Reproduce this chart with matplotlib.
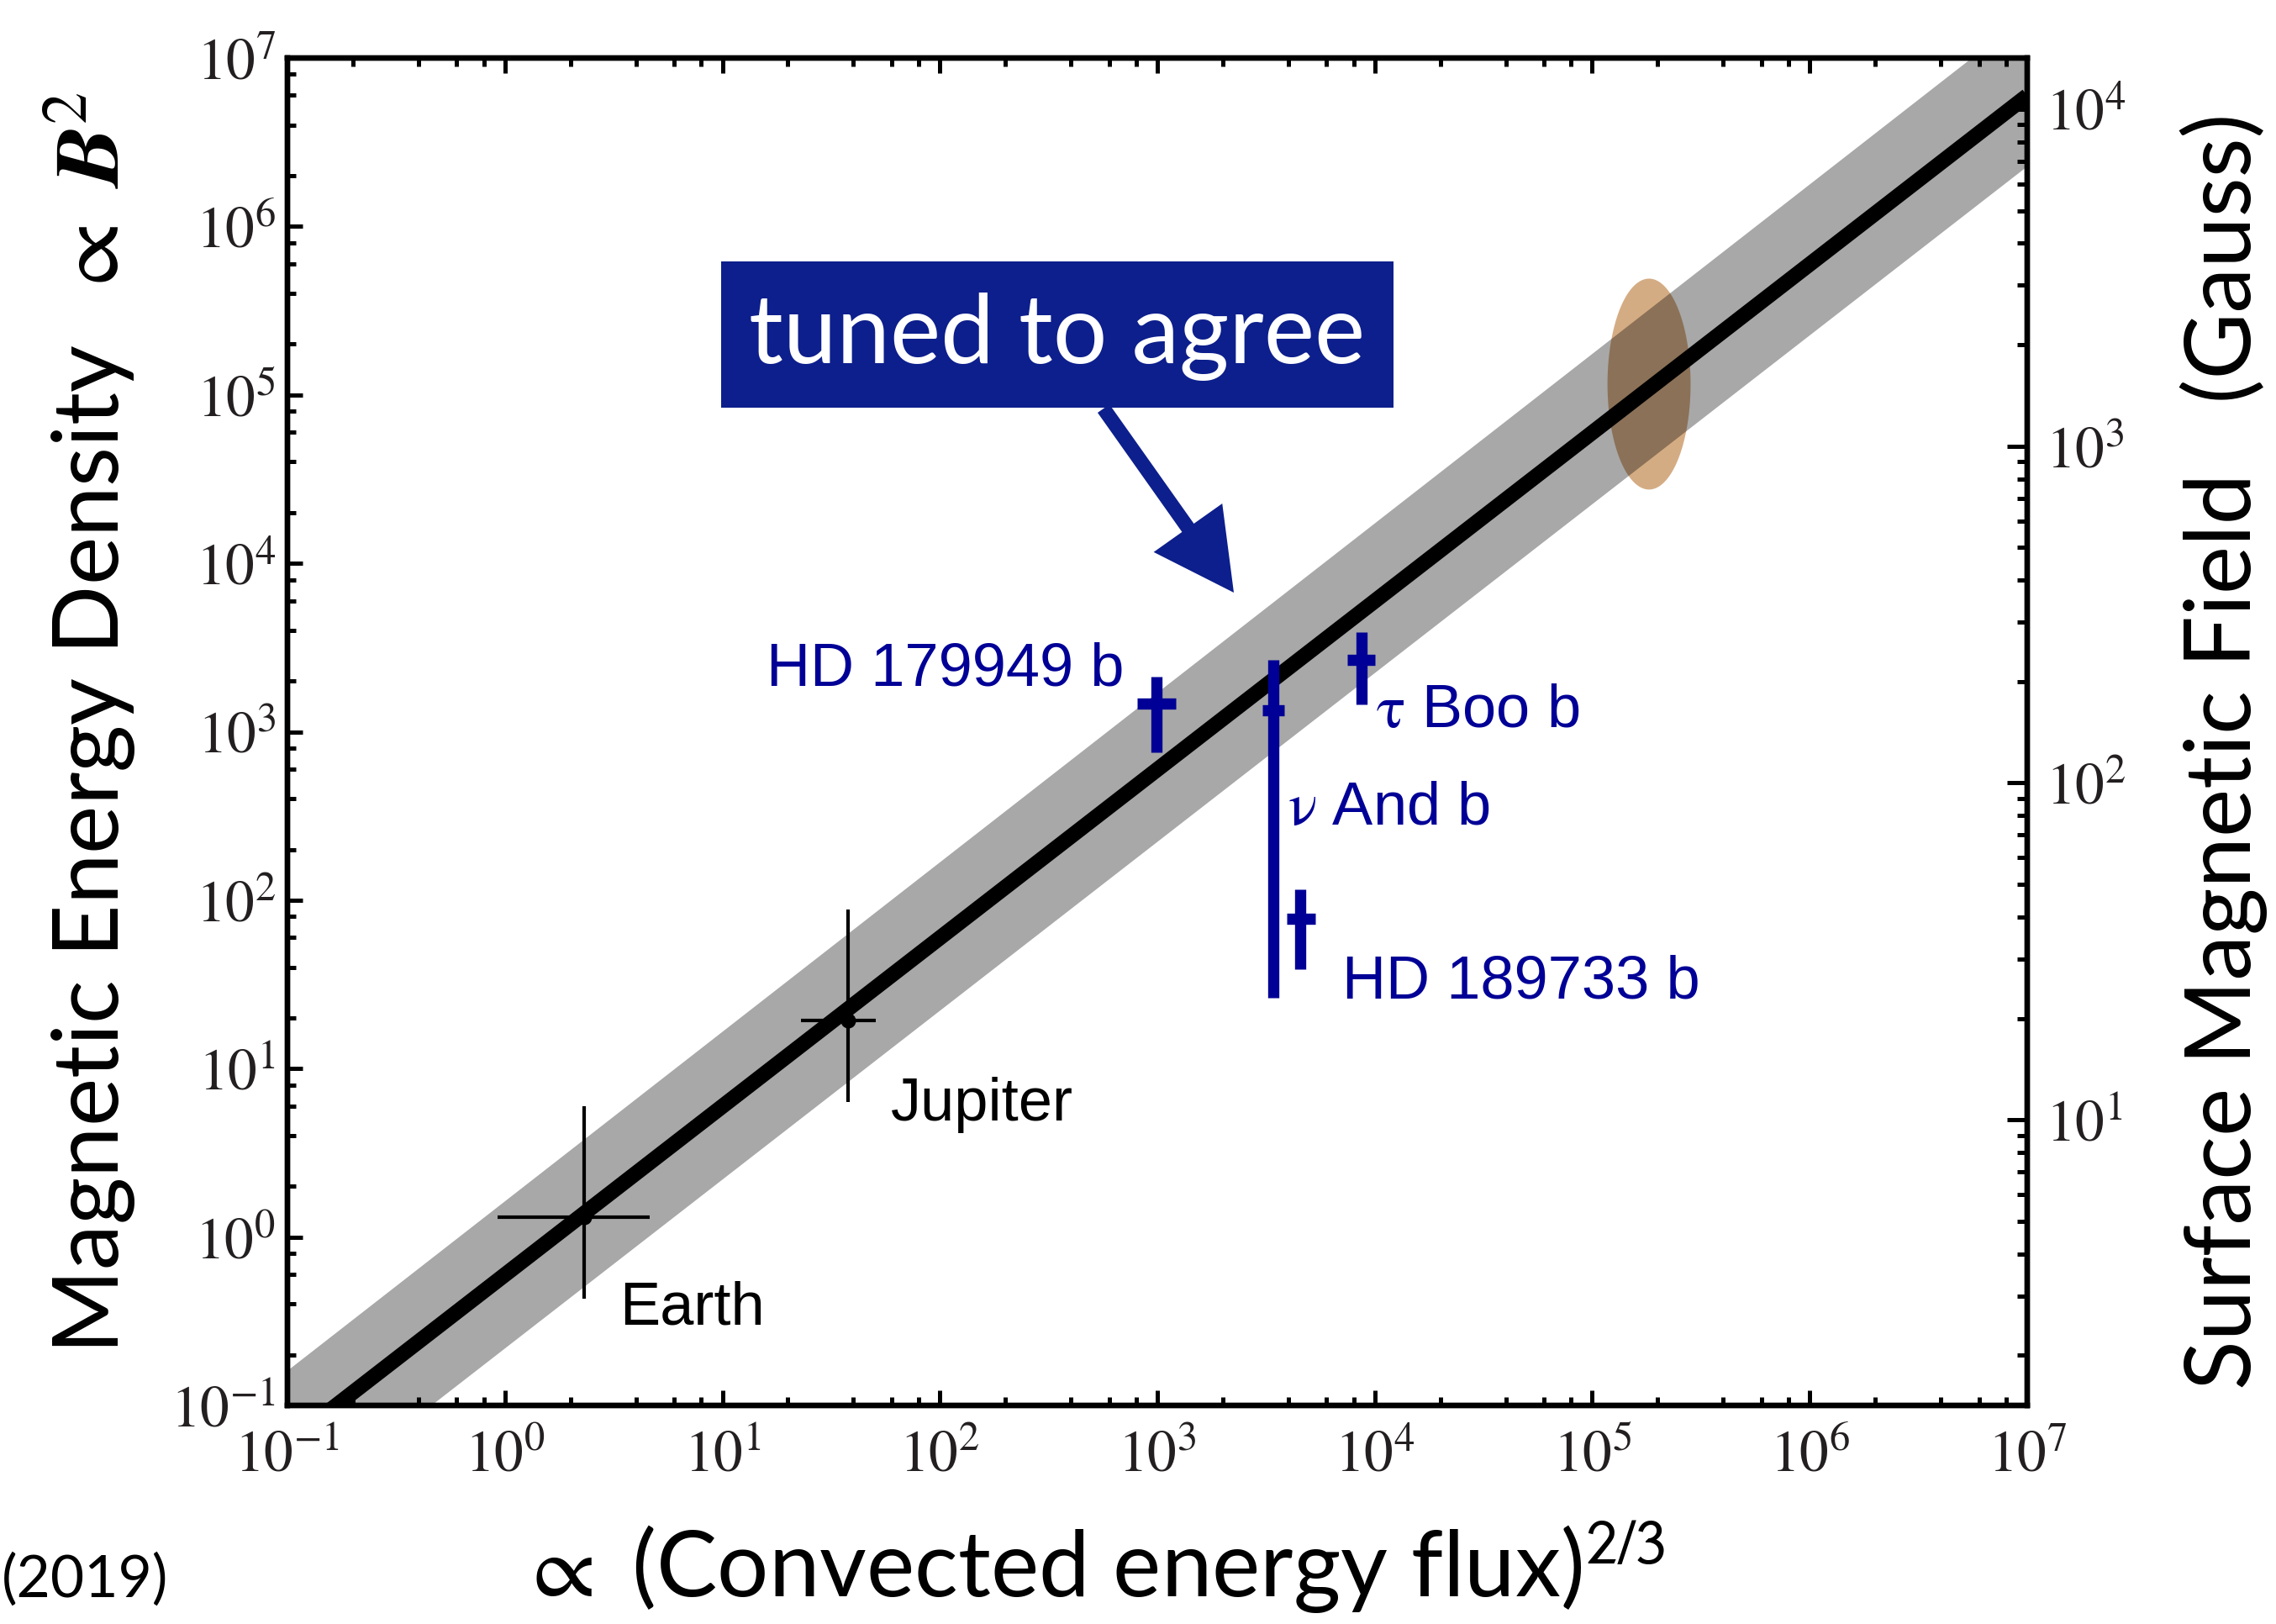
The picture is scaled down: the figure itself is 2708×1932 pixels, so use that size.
import numpy as np
import matplotlib
matplotlib.use("Agg")
import matplotlib.pyplot as plt
from matplotlib.ticker import LogLocator, FuncFormatter, NullFormatter
from matplotlib.patches import Rectangle
from matplotlib.mathtext import MathTextParser

plt.rcParams['mathtext.fontset'] = 'stix'
plt.rcParams['font.family'] = ['Lato', 'DejaVu Sans']

# ---------------- data ----------------
# best-fit relation and its spread band (end points, log-log straight line)
fit_x = [1e-1, 1e7]
fit_y = [10**-1.224, 10**6.776]
band_lo = [10**-1.66, 10**6.36]
band_hi = [10**-0.79, 10**7.26]

# Solar-system planets
planet_names = ["Earth", "Jupiter"]
planet_x = [2.31, 37.7]
planet_xlo = [0.925, 22.9]
planet_xhi = [4.62, 50.6]
planet_y = [1.315, 19.3]
planet_ylo = [0.431, 6.34]
planet_yhi = [6.0, 88.1]

# Hot Jupiters
hj_names = ["HD 179949 b", r"$\mathrm{\nu}$ And b", r"$\mathrm{\tau}$ Boo b", "HD 189733 b"]
hj_x = [995, 3400, 8710, 4550]
hj_xlo = [811, 3030, 7480, 3945]
hj_xhi = [1211, 3846, 10040, 5346]
hj_y = [1472, 1343, 2673, 77.6]
hj_ylo = [755, 26.4, 1455, 39.0]
hj_yhi = [2123, 2673, 3908, 116]

# tuned region (ellipse in log10 space): centre and semi-axes (decades)
ell_center = [5.261, 5.064]
ell_semi = [0.191, 0.626]

# right axis: B in Gauss, B range (log10) spanning the same box
b_log_range = [0.152, 4.152]

# ---------------- figure ----------------
W, H, DPI = 2708, 1932, 200
fig = plt.figure(figsize=(W / DPI, H / DPI), dpi=DPI)
L, R, T, B = 342, 2412, 69, 1672
ax = fig.add_axes([L / W, 1 - B / H, (R - L) / W, (B - T) / H])

navy = "#000096"
boxcol = "#0d1f8c"

# ellipse
t = np.linspace(0, 2 * np.pi, 300)
ex = 10 ** (ell_center[0] + ell_semi[0] * np.cos(t))
ey = 10 ** (ell_center[1] + ell_semi[1] * np.sin(t))
ax.fill(ex, ey, color="#d4ac84", lw=0, zorder=1)

# band
ax.fill_between(fit_x, band_lo, band_hi, color="black", alpha=0.34, lw=0, zorder=2)
# fit line
ax.plot(fit_x, fit_y, color="black", lw=6.5, solid_capstyle="butt", zorder=3)

# planets
px = np.array(planet_x); py = np.array(planet_y)
ax.errorbar(px, py,
            xerr=[px - np.array(planet_xlo), np.array(planet_xhi) - px],
            yerr=[py - np.array(planet_ylo), np.array(planet_yhi) - py],
            fmt='o', color='black', ms=5.5, elinewidth=1.5, capsize=0, zorder=4)

# hot Jupiters
hx = np.array(hj_x, float); hy = np.array(hj_y, float)
ax.errorbar(hx, hy,
            xerr=[hx - np.array(hj_xlo), np.array(hj_xhi) - hx],
            yerr=[hy - np.array(hj_ylo), np.array(hj_yhi) - hy],
            fmt='none', ecolor=navy, elinewidth=4.8, capsize=0, zorder=5)

ax.set_xscale('log'); ax.set_yscale('log')
ax.set_xlim(1e-1, 1e7); ax.set_ylim(1e-1, 1e7)

fmt = FuncFormatter(lambda v, p: r"$10^{%d}$" % int(round(np.log10(v))))
for axis in (ax.xaxis, ax.yaxis):
    axis.set_major_locator(LogLocator(base=10, numticks=30))
    axis.set_minor_locator(LogLocator(base=10, subs=(2, 4, 6, 8), numticks=30))
    axis.set_major_formatter(fmt)
    axis.set_minor_formatter(NullFormatter())
ax.tick_params(which='both', direction='in', top=True, right=False, width=1.8,
               labelsize=25, colors='black', labelcolor='#231f20')
ax.tick_params(which='major', length=6.5)
ax.tick_params(which='minor', length=3.6)
ax.tick_params(axis='x', pad=10)
ax.tick_params(axis='y', pad=5)

ax2 = ax.twinx()
ax2.set_yscale('log')
ax2.set_ylim(10 ** b_log_range[0], 10 ** b_log_range[1])
ax2.yaxis.set_major_locator(LogLocator(base=10, numticks=30))
ax2.yaxis.set_minor_locator(LogLocator(base=10, subs=np.arange(2, 10), numticks=30))
ax2.yaxis.set_major_formatter(fmt)
ax2.yaxis.set_minor_formatter(NullFormatter())
ax2.tick_params(which='both', direction='in', width=1.8, labelsize=25,
                labelcolor='#231f20', pad=8)
ax2.tick_params(which='major', length=8.5)
ax2.tick_params(which='minor', length=4.2)

for a in (ax, ax2):
    for s in a.spines.values():
        s.set_linewidth(2.3)

# ---------------- texts ----------------
def fx(px_):
    return px_ / W

def fy(py_):
    return 1 - py_ / H

lab_font = ['Liberation Sans', 'DejaVu Sans']
fig.text(fx(1338), fy(815), hj_names[0], ha='right', va='baseline', color=navy,
         fontsize=26, family=lab_font)
fig.text(fx(1532), fy(981), hj_names[1], ha='left', va='baseline', color=navy,
         fontsize=26, family=lab_font)
fig.text(fx(1637), fy(865), hj_names[2], ha='left', va='baseline', color=navy,
         fontsize=26, family=lab_font)
fig.text(fx(1597), fy(1188), hj_names[3], ha='left', va='baseline', color=navy,
         fontsize=26, family=lab_font)
fig.text(fx(1060), fy(1333), planet_names[1], ha='left', va='baseline', color='black',
         fontsize=26, family=lab_font)
fig.text(fx(737), fy(1575), planet_names[0], ha='left', va='baseline', color='black',
         fontsize=26, family=lab_font)

# annotation box + arrow
fig.add_artist(Rectangle((fx(858), fy(485)), (1658 - 858) / W, (485 - 311) / H,
                         transform=fig.transFigure, color=boxcol, lw=0, zorder=10))
fig.text(fx(1258), fy(432), "tuned to agree", ha='center', va='baseline',
         color='white', fontsize=41, zorder=11)
ax.annotate("", xy=(1468, H - 705), xycoords='figure pixels',
            xytext=(1313, H - 486), textcoords='figure pixels',
            arrowprops=dict(arrowstyle="simple,head_length=3.4,head_width=3.6,tail_width=0.62",
                            mutation_scale=10, color=boxcol, lw=0, shrinkA=0, shrinkB=0),
            zorder=10, annotation_clip=False)

# axis labels
def mt_ok(s):
    try:
        MathTextParser('path').parse(s, 72)
        return True
    except Exception:
        return False

bsym = r"$\mathbfit{B}^{2}$"
if not mt_ok(bsym):
    bsym = r"$\mathit{B}^{2}$"
fig.text(fx(142), fy(860), "Magnetic Energy Density  " + r"$\propto$ " + bsym,
         rotation=90, rotation_mode='anchor', ha='center', va='baseline',
         fontsize=39, color='black')
fig.text(fx(2678), fy(894), "Surface Magnetic Field   (Gauss)",
         rotation=90, rotation_mode='anchor', ha='center', va='baseline',
         fontsize=39, color='black')
fig.text(fx(1300), fy(1900), r"$\propto$" + " (Convected energy flux)" + r"$^{\mathsf{2/3}}$",
         ha='center', va='baseline', fontsize=39, color='black')
fig.text(fx(2), fy(1900), "(2019)", ha='left', va='baseline', fontsize=25, color='black')

fig.savefig("out.png", dpi=DPI)
